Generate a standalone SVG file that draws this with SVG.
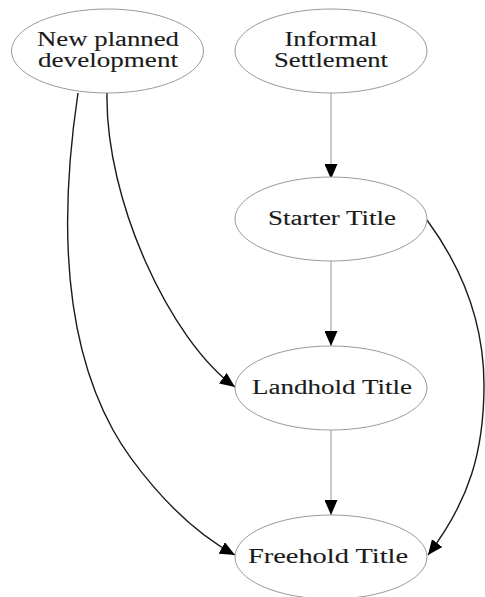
<svg xmlns="http://www.w3.org/2000/svg" width="485" height="597" viewBox="0 0 485 597">
<style>
.node ellipse{fill:#fff;stroke:#9a9a9a;stroke-width:1}
.node text{font-family:"Liberation Serif","Times New Roman",serif;font-size:20px;fill:#1a1a1a;stroke:#1a1a1a;stroke-width:0.1;text-anchor:middle}
.edge{fill:none;stroke:#1a1a1a;stroke-width:1.4}
.edge.gray{stroke:#a8a8a8;stroke-width:1.2}
</style>
<defs>
<marker id="ah" markerUnits="userSpaceOnUse" markerWidth="16" markerHeight="13" refX="15" refY="6.5" orient="auto">
<path d="M0,0 L15,6.5 L0,13 z" fill="#000"/>
</marker>
</defs>
<g id="edges">
<path class="edge gray" d="M331,93 L331,179" marker-end="url(#ah)"/>
<path class="edge gray" d="M331,261 L331,346" marker-end="url(#ah)"/>
<path class="edge gray" d="M331,430 L331,515" marker-end="url(#ah)"/>
<path class="edge" d="M427,220 C460,265 484,320 484,385 C484,450 470,500 428,555" marker-end="url(#ah)"/>
<path class="edge" d="M107,93 C105,200 170,340 235,387" marker-end="url(#ah)"/>
<path class="edge" d="M78,93 C62,200 58,330 113,430 C124,450 170,520 235,555" marker-end="url(#ah)"/>
</g>
<g id="node-new" class="node">
<ellipse cx="107.5" cy="51" rx="96" ry="42"/>
<text x="108" y="46" textLength="142" lengthAdjust="spacingAndGlyphs">New planned</text>
<text x="108" y="67" textLength="140" lengthAdjust="spacingAndGlyphs">development</text>
</g>
<g id="node-informal" class="node">
<ellipse cx="331" cy="51" rx="96" ry="42"/>
<text x="331" y="46" textLength="93" lengthAdjust="spacingAndGlyphs">Informal</text>
<text x="331" y="67" textLength="114" lengthAdjust="spacingAndGlyphs">Settlement</text>
</g>
<g id="node-starter" class="node">
<ellipse cx="331" cy="219" rx="96" ry="42"/>
<text x="332" y="225" textLength="128" lengthAdjust="spacingAndGlyphs">Starter Title</text>
</g>
<g id="node-landhold" class="node">
<ellipse cx="331" cy="388" rx="96" ry="42"/>
<text x="332" y="394" textLength="160" lengthAdjust="spacingAndGlyphs">Landhold Title</text>
</g>
<g id="node-freehold" class="node">
<ellipse cx="331" cy="557" rx="96" ry="42"/>
<text x="328" y="563" textLength="160" lengthAdjust="spacingAndGlyphs">Freehold Title</text>
</g>
</svg>
